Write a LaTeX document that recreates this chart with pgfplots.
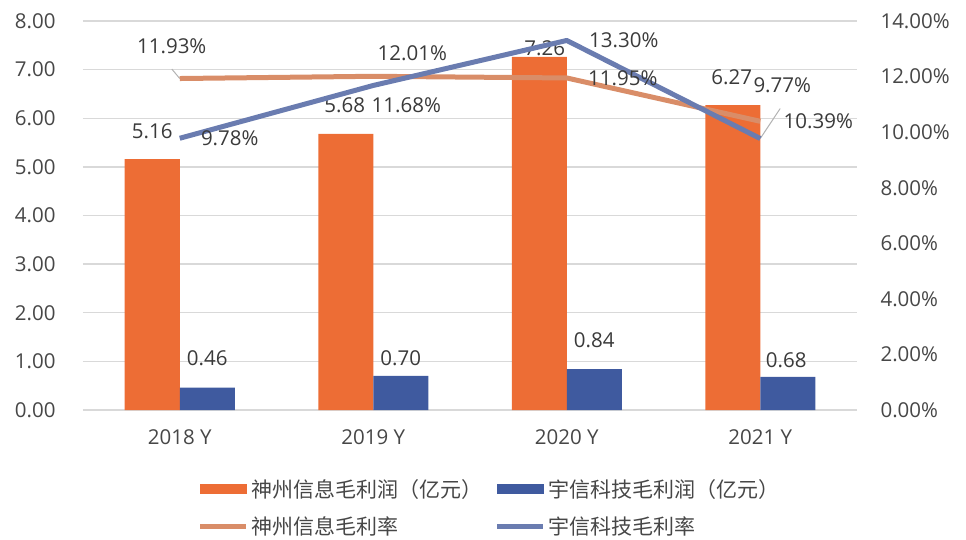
\documentclass[border=0pt]{standalone}
\usepackage{pgfplots}
\pgfplotsset{compat=1.18}
\usepackage{pgfplotstable}
\usepackage{fontspec}
\setmainfont{Open Sans}
\newfontfamily\cjk{Noto Sans CJK SC}
\definecolor{barO}{HTML}{ED6D35}
\definecolor{barB}{HTML}{3F5A9F}
\definecolor{lineO}{HTML}{D98D68}
\definecolor{lineB}{HTML}{6A7CB0}
\definecolor{gridc}{HTML}{D9D9D9}
\definecolor{txt}{HTML}{3A3A3A}
\definecolor{tickc}{HTML}{474747}

\pgfplotstableread{
x y dx dy
0 5.16 -27.5 28
1 5.68 -28.5 29
2 7.26 -22 8.5
3 6.27 -28.5 28
}\barSZ
\pgfplotstableread{
x y dx dy
0 0.46 27.5 29.6
1 0.70 27.5 18
2 0.84 27.5 29
3 0.68 26 17
}\barYX
\pgfplotstableread{
x y dx dy
0 11.93 -8 32
1 12.01 39 23
2 11.95 56 0
3 10.39 58 0
}\rateSZ
\pgfplotstableread{
x y dx dy
0 9.78 50 0
1 11.68 33 -20
2 13.30 57 0
3 9.77 22 53.5
}\rateYX

\pgfplotsset{
  base/.style={
    scale only axis, width=774pt, height=389pt,
    xmin=-0.5, xmax=3.5,
    axis line style={draw=none},
    tick style={draw=none},
    major tick length=0pt,
    /pgf/number format/assume math mode=true,
    tick label style={font=\fontsize{20.5}{24}\selectfont, text=tickc},
    clip=false,
  },
  labels/.style={
    visualization depends on={\thisrow{dx} \as \labdx},
    visualization depends on={\thisrow{dy} \as \labdy},
    every node near coord/.append style={anchor=center, xshift=\labdx, yshift=\labdy, font=\fontsize{20.5}{24}\selectfont, text=txt, inner sep=0pt},
  },
}

\begin{document}
\begin{tikzpicture}
\path[use as bounding box] (-83pt,-129pt) rectangle (883pt,410pt);
\begin{axis}[base,
  ymin=0, ymax=8, ytick={0,1,...,8},
  ymajorgrids, grid style={gridc, line width=1.3pt},
  xtick={0,1,2,3}, xticklabels={2018 Y,2019 Y,2020 Y,2021 Y},
  yticklabel={\pgfmathprintnumber[fixed,fixed zerofill,precision=2]{\tick}},
  yticklabel style={xshift=-24pt},
  xticklabel style={yshift=-16pt},
  legend columns=2,
  legend cell align=left,
  legend style={draw=none, fill=none, at={(0.525,-0.251)}, anchor=center,
    font=\cjk\fontsize{21}{25}\selectfont, text=tickc,
    /tikz/every odd column/.append style={column sep=2pt},
    /tikz/every even column/.append style={column sep=11pt},
    /tikz/row sep=16pt, nodes={inner sep=1pt}},
]
\addplot[forget plot, ybar, bar width=55pt, bar shift=-27.5pt, fill=barO, draw=none, labels,
  nodes near coords={\pgfmathprintnumber[fixed,fixed zerofill,precision=2]{\pgfplotspointmeta}}]
  table[x=x,y=y]{\barSZ};
\addplot[forget plot, ybar, bar width=55pt, bar shift=27.5pt, fill=barB, draw=none, labels,
  nodes near coords={\pgfmathprintnumber[fixed,fixed zerofill,precision=2]{\pgfplotspointmeta}}]
  table[x=x,y=y]{\barYX};
\addlegendimage{legend image code/.code={\fill[barO] (0pt,-4.5pt) rectangle (46pt,4.5pt);}}
\addlegendentry{神州信息毛利润（亿元）}
\addlegendimage{legend image code/.code={\fill[barB] (0pt,-4.5pt) rectangle (46pt,4.5pt);}}
\addlegendentry{宇信科技毛利润（亿元）}
\addlegendimage{legend image code/.code={\draw[lineO, line width=5pt] (0pt,0pt)--(46pt,0pt);}}
\addlegendentry{神州信息毛利率}
\addlegendimage{legend image code/.code={\draw[lineB, line width=5pt] (0pt,0pt)--(46pt,0pt);}}
\addlegendentry{宇信科技毛利率}
\end{axis}
\begin{axis}[base,
  ymin=0, ymax=14, ytick={0,2,...,14}, xtick=\empty,
  yticklabel pos=right,
  yticklabel={\pgfmathprintnumber[fixed,fixed zerofill,precision=2]{\tick}\%},
  yticklabel style={xshift=20pt},
]
\draw[gray!60, line width=1pt] (axis cs:0,11.93) -- (axis cs:-0.041,12.27);
\draw[gray!60, line width=1pt] (axis cs:3,9.77) -- (axis cs:3.103,10.85);
\addplot[forget plot, lineO, line width=5pt, line join=round, no marks, labels,
  nodes near coords={\pgfmathprintnumber[fixed,fixed zerofill,precision=2]{\pgfplotspointmeta}\%}]
  table[x=x,y=y]{\rateSZ};
\addplot[forget plot, lineB, line width=5pt, line join=round, no marks, labels,
  nodes near coords={\pgfmathprintnumber[fixed,fixed zerofill,precision=2]{\pgfplotspointmeta}\%}]
  table[x=x,y=y]{\rateYX};
\end{axis}
\end{tikzpicture}
\end{document}
